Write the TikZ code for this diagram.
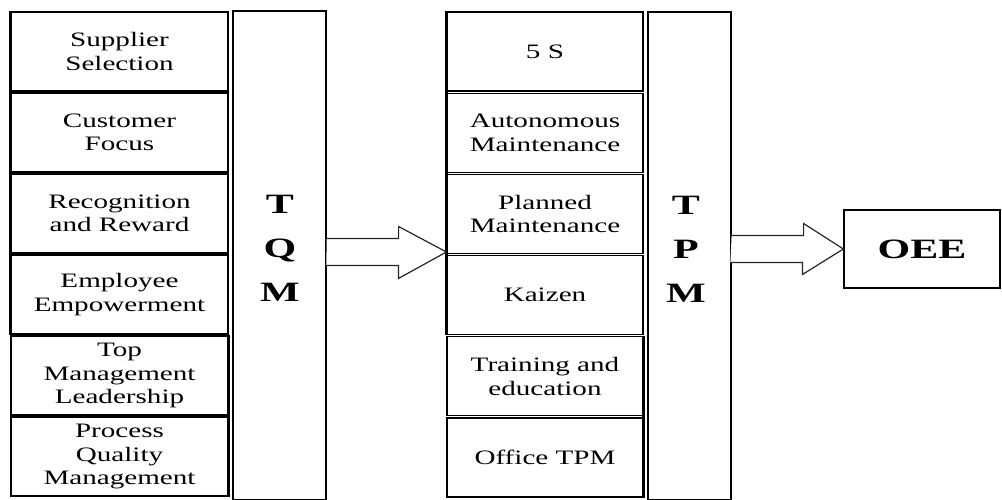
\documentclass[tikz,border=0pt]{standalone}
\usepackage{fontspec}
\setmainfont{Liberation Serif}[FakeStretch=1.42]
\newfontfamily\bigbold{Liberation Serif}[FakeStretch=1.5]
\usetikzlibrary{calc}
\begin{document}
\begin{tikzpicture}[x=1pt,y=-1pt,
  item/.style={draw, line width=1.2pt, minimum height=79pt, inner sep=0pt,
    align=center, font=\fontsize{20.5}{23.5}\selectfont},
  leftitem/.style={item, minimum width=217pt},
  miditem/.style={item, minimum width=196pt},
  column/.style={draw, line width=1.2pt, inner sep=0pt},
  bigletters/.style={align=center, inner sep=0pt,
    font=\bigbold\bfseries\fontsize{28}{44}\selectfont},
  thickedge/.style={line width=2.6pt},
  blockarrow/.style={draw=black!85, line width=1.2pt, fill=white, line join=miter}]
\useasboundingbox (0,0) rectangle (1002,499);

% left column
\node[leftitem] (s1) at (119.5,51.5)  {Supplier\\Selection};
\node[leftitem] (s2) at (119.5,132.5) {Customer\\Focus};
\node[leftitem] (s3) at (119.5,213.5) {Recognition\\and Reward};
\node[leftitem] (s4) at (119.5,294.5) {Employee\\Empowerment};
\node[leftitem] (s5) at (119.5,375.5) {Top\\Management\\Leadership};
\node[leftitem] (s6) at (119.5,456.5) {Process\\Quality\\Management};
\draw[thickedge] (s1.north west) -- (s4.south west);
\draw[thickedge] (s5.north east) -- (s6.south east);

% TQM column
\node[column, minimum width=93pt, minimum height=489pt] (tqm) at (279.5,255.5) {};
\node[bigletters] (tqmtext) at (280,248) {T\\Q\\M};

% middle column
\node[miditem] (t1) at (545,51.5)  {5 S};
\node[miditem] (t2) at (545,132.7) {Autonomous\\Maintenance};
\node[miditem] (t3) at (545,213.9) {Planned\\Maintenance};
\node[miditem] (t4) at (545,295.1) {Kaizen};
\node[miditem] (t5) at (545,376.3) {Training and\\education};
\node[miditem] (t6) at (545,457.5) {Office TPM};
\draw[thickedge] (t1.north west) -- (t4.south west);
\draw[thickedge] (t5.north east) -- (t6.south east);

% TPM column
\node[column, minimum width=83pt, minimum height=488pt] (tpm) at (689.5,256) {};
\node[bigletters] (tpmtext) at (686,249) {T\\P\\M};

% OEE box
\node[column, minimum width=156pt, minimum height=78pt,
      font=\bigbold\bfseries\fontsize{28}{30}\selectfont] (oee) at (922,249) {OEE};

% block arrows
\coordinate (y252) at (0,252);
\coordinate (a1s) at (tqm.east |- y252);
\coordinate (a1t) at (t4.north west |- y252);
\draw[blockarrow] (a1s) ++(0,-13.5) -- ++(72,0) -- ++(0,-12) -- (a1t)
  -- ++(-48,26.5) -- ++(0,-13) -- ++(-72,0);

\coordinate (a2s) at (tpm.east |- oee.west);
\draw[blockarrow] (a2s) ++(0,-13.5) -- ++(72,0) -- ++(0,-12) -- (oee.west)
  -- ++(-41,25.5) -- ++(0,-12) -- ++(-72,0);
\end{tikzpicture}
\end{document}
